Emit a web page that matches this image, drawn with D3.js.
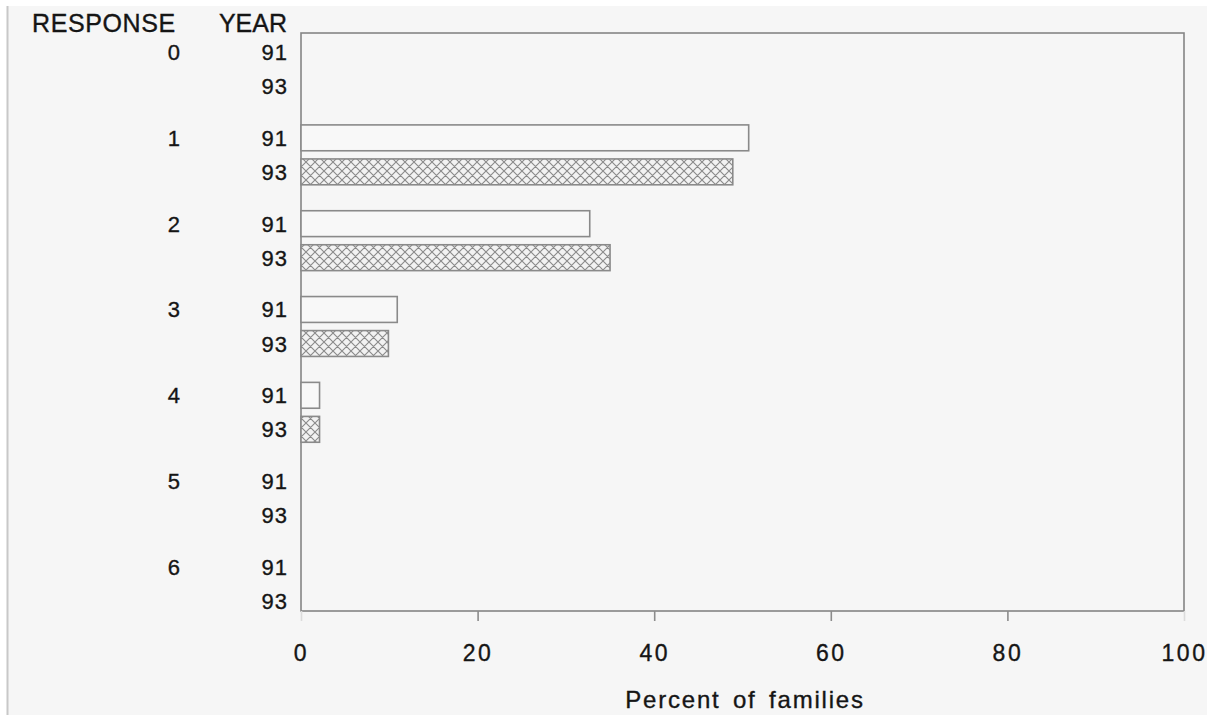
<!DOCTYPE html>
<html>
<head>
<meta charset="utf-8">
<script src="https://cdn.jsdelivr.net/npm/d3@7/dist/d3.min.js"></script>
<style>
  html, body { margin: 0; padding: 0; background: #ffffff; }
  svg { display: block; }
  text { font-family: "Liberation Sans", Arial, Helvetica, sans-serif; fill: #151515; stroke: #151515; stroke-width: 0.35px; }
</style>
</head>
<body>
<svg id="chart" width="1207" height="715"></svg>
<script>
// ---- data ----
const responses = ["0", "1", "2", "3", "4", "5", "6"];
const years = ["91", "93"];
const values91 = [0, 50.7, 32.7, 10.9, 2.1, 0, 0];
const values93 = [0, 48.9, 35.0, 9.9, 2.1, 0, 0];
const xTicks = [0, 20, 40, 60, 80, 100];
const xTitle = "Percent of families";
const headerResponse = "RESPONSE";
const headerYear = "YEAR";

const rows = [];
responses.forEach((r, i) => {
  rows.push({ response: r, year: "91", value: values91[i] });
  rows.push({ response: r, year: "93", value: values93[i] });
});

const svg = d3.select("#chart");
const W = 1207, H = 715;

// page background (scanned paper)
svg.append("rect").attr("x", 0).attr("y", 0).attr("width", W).attr("height", H).attr("fill", "#ffffff");
svg.append("rect").attr("x", 8).attr("y", 6).attr("width", W - 8).attr("height", H - 6).attr("fill", "#f6f6f6");
svg.append("line").attr("x1", 7.5).attr("x2", 7.5).attr("y1", 6).attr("y2", H)
  .attr("stroke", "#c8c8c8").attr("stroke-width", 2);

// hatch pattern
const defs = svg.append("defs");
const pat = defs.append("pattern").attr("id", "xhatch").attr("patternUnits", "userSpaceOnUse")
  .attr("width", 9).attr("height", 9);
pat.append("rect").attr("width", 9).attr("height", 9).attr("fill", "#f2f2f2");
pat.append("path").attr("d", "M0,0 L9,9 M9,0 L0,9 M-1,8 L1,10 M8,-1 L10,1 M-1,1 L1,-1 M8,10 L10,8")
  .attr("stroke", "#8a8a8a").attr("stroke-width", 1.1).attr("fill", "none");

// plot frame geometry
const pLeft = 301, pRight = 1184, pTop = 33, pBottom = 611;

const x = d3.scaleLinear().domain([0, 100]).range([pLeft, pRight]);
const yGroup = d3.scaleBand().domain(responses).range([35, 618]).paddingInner(0.207).paddingOuter(0);
const ySub = d3.scaleBand().domain(years).range([0, yGroup.bandwidth()]);
const barH = ySub.bandwidth() * 0.76;

// frame
svg.append("rect").attr("x", pLeft).attr("y", pTop).attr("width", pRight - pLeft).attr("height", pBottom - pTop)
  .attr("fill", "none").attr("stroke", "#858585").attr("stroke-width", 1.6);

// bars
svg.append("g").selectAll("rect").data(rows.filter(d => d.value > 0)).join("rect")
  .attr("x", x(0))
  .attr("y", d => yGroup(d.response) + ySub(d.year) + (ySub.bandwidth() - barH) / 2)
  .attr("width", d => x(d.value) - x(0))
  .attr("height", barH)
  .attr("fill", d => d.year === "91" ? "#f8f8f8" : "url(#xhatch)")
  .attr("stroke", "#8a8a8a").attr("stroke-width", 1.6);

// x axis
const xAxis = d3.axisBottom(x).tickValues(xTicks).tickSize(10).tickPadding(28).tickFormat(d3.format("d"));
const gx = svg.append("g").attr("transform", `translate(0,${pBottom})`).call(xAxis);
gx.select(".domain").remove();
gx.selectAll(".tick line").attr("stroke", d => (d === 0 || d === 100) ? "#dcdcdc" : "#8c8c8c").attr("stroke-width", 1.6);
gx.selectAll(".tick text")
  .attr("font-size", 23)
  .attr("fill", "#151515")
  .attr("font-family", "'Liberation Sans', Arial, sans-serif")
  .attr("letter-spacing", 2.5)
  .attr("dy", "0.5em");

// axis title
svg.append("text").attr("x", 745).attr("y", 708).attr("text-anchor", "middle")
  .attr("font-size", 24).attr("letter-spacing", 1.8).attr("word-spacing", 4).text(xTitle);

// headers
svg.append("text").attr("x", 32).attr("y", 32).attr("font-size", 25).attr("letter-spacing", 0.6).text(headerResponse);
svg.append("text").attr("x", 287).attr("y", 32).attr("text-anchor", "end").attr("font-size", 25).attr("letter-spacing", 0).text(headerYear);

// response labels
svg.append("g").selectAll("text").data(responses).join("text")
  .attr("x", 180)
  .attr("y", d => yGroup(d) + ySub("91") + ySub.bandwidth() / 2 + 8)
  .attr("text-anchor", "end").attr("font-size", 22).text(d => d);

// year labels
svg.append("g").selectAll("text").data(rows).join("text")
  .attr("x", 288)
  .attr("y", d => yGroup(d.response) + ySub(d.year) + ySub.bandwidth() / 2 + 8)
  .attr("text-anchor", "end").attr("font-size", 22).attr("letter-spacing", 1.0).text(d => d.year);
</script>
</body>
</html>
